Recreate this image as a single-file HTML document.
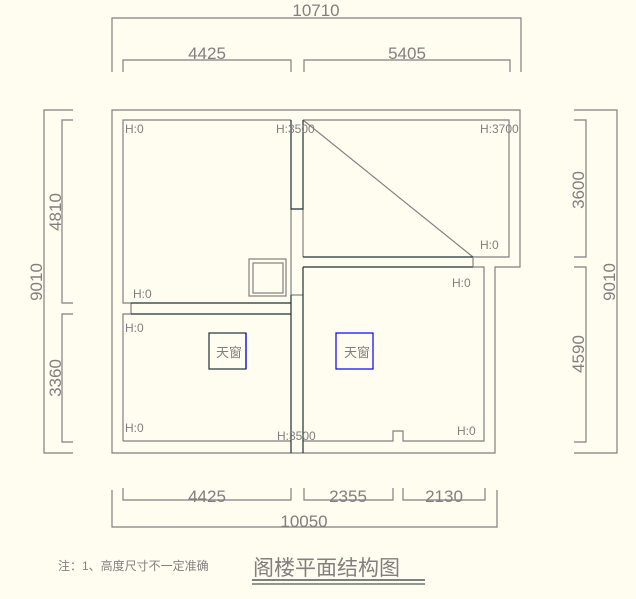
<!DOCTYPE html>
<html><head><meta charset="utf-8"><style>
html,body{margin:0;padding:0;background:#fffcf0;}
svg{display:block}
text{font-family:"Liberation Sans","Noto Sans CJK SC",sans-serif;fill:#808080}
</style></head><body>
<svg width="636" height="599" viewBox="0 0 636 599" xmlns="http://www.w3.org/2000/svg">
<rect width="636" height="599" fill="#fffcf0"/>
<g fill="none" stroke="#808080" stroke-width="1.2">
<polyline points="112,72 112,18 521,18 521,72"/>
<polyline points="123,72 123,60 291,60 291,72"/>
<polyline points="304,72 304,60 510,60 510,72"/>
<polyline points="73,110 44,110 44,453 73,453"/>
<polyline points="73,120 62,120 62,303 73,303"/>
<polyline points="73,314 62,314 62,442 73,442"/>
<polyline points="574,110 617,110 617,453 574,453"/>
<polyline points="574,120 586,120 586,257 574,257"/>
<polyline points="574,267 586,267 586,442 574,442"/>
<polyline points="123,488 123,500 291,500 291,488"/>
<polyline points="304,488 304,500 393,500 393,488"/>
<polyline points="403,488 403,500 485,500 485,488"/>
<polyline points="112,490 112,527 497,527 497,490"/>
<polygon points="112,110 520,110 520,267 495,267 495,453 112,453"/>
<polyline points="291,120 123,120 123,303 131,303"/>
<polyline points="123,441 123,314 131,314"/>
<line x1="131" y1="303" x2="131" y2="314"/>
<polyline points="303,120 509,120 509,257 473,257"/>
<line x1="303" y1="120" x2="473" y2="257"/>
<polyline points="473,267 484,267 484,441 403,441 403,431 393,431 393,441 303,441"/>
<line x1="123" y1="441" x2="291" y2="441"/>
<line x1="291" y1="209" x2="291" y2="295"/>
<line x1="303" y1="209" x2="303" y2="257"/>
<line x1="291" y1="295" x2="303" y2="295"/>
<rect x="249" y="259" width="37" height="37"/>
<rect x="253" y="263" width="30" height="30"/>
</g>
<g fill="none" stroke="#1e3333" stroke-width="1.2">
<polyline points="291,120 291,209 303,209 303,120"/>
<line x1="291" y1="295" x2="291" y2="453"/>
<line x1="303" y1="267" x2="303" y2="453"/>
<line x1="303" y1="257" x2="473" y2="257"/>
<line x1="303" y1="267" x2="473" y2="267"/>
<line x1="473" y1="257" x2="473" y2="267" stroke="#808080"/>
<line x1="131" y1="303" x2="291" y2="303"/>
<line x1="131" y1="314" x2="291" y2="314"/>
<rect x="209" y="333" width="37" height="36" stroke="#1e3333"/>
</g>
<line x1="246" y1="333" x2="246" y2="369" stroke="#0000ff" stroke-width="1.2"/>
<rect x="336" y="333" width="37" height="36" fill="none" stroke="#0000ff" stroke-width="1.2"/>
<g font-size="17" text-anchor="middle">
<text x="316" y="16">10710</text>
<text x="207" y="59">4425</text>
<text x="407" y="59">5405</text>
<text x="207" y="502">4425</text>
<text x="348" y="502">2355</text>
<text x="444" y="502">2130</text>
<text x="304" y="527">10050</text>
<text transform="translate(61,212) rotate(-90)">4810</text>
<text transform="translate(61,378) rotate(-90)">3360</text>
<text transform="translate(42,282) rotate(-90)">9010</text>
<text transform="translate(584,190) rotate(-90)">3600</text>
<text transform="translate(584,354) rotate(-90)">4590</text>
<text transform="translate(615,282) rotate(-90)">9010</text>
</g>
<g font-size="12">
<text x="125" y="133">H:0</text>
<text x="276" y="133">H:3500</text>
<text x="480" y="133">H:3700</text>
<text x="480" y="249">H:0</text>
<text x="133" y="298">H:0</text>
<text x="452" y="287">H:0</text>
<text x="125" y="332">H:0</text>
<text x="125" y="432">H:0</text>
<text x="277" y="440">H:3500</text>
<text x="457" y="435">H:0</text>
<text x="216" y="357" font-size="13">天窗</text>
<text x="344" y="357" font-size="13">天窗</text>
<text x="58" y="570" font-size="12">注：1、高度尺寸不一定准确</text>
</g>
<text x="253" y="575" font-size="21">阁楼平面结构图</text>
<line x1="252" y1="580" x2="425" y2="580" stroke="#808080" stroke-width="2"/>
<line x1="252" y1="584" x2="425" y2="584" stroke="#1e3333" stroke-width="1"/>
</svg>
</body></html>
